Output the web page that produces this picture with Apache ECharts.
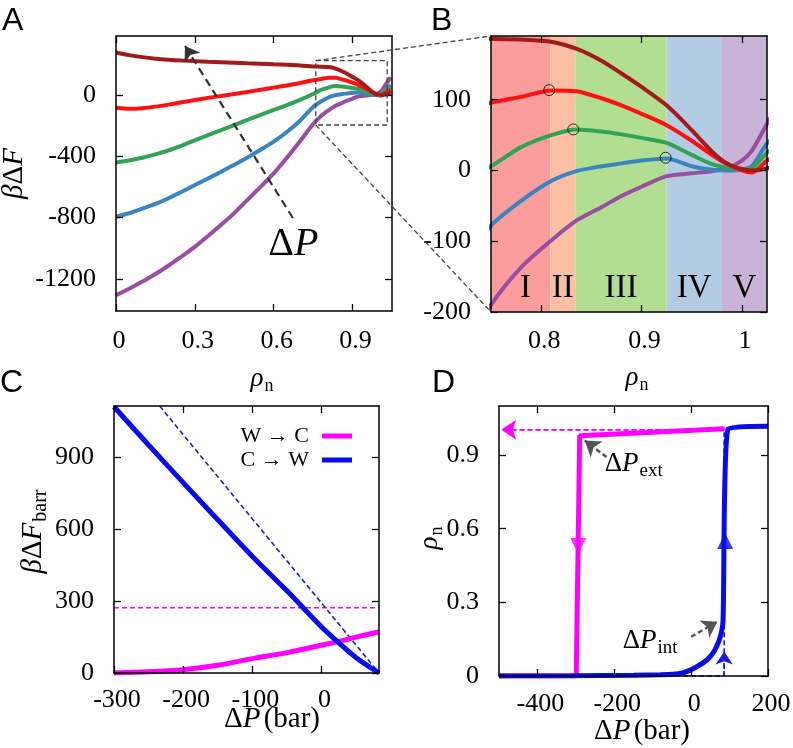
<!DOCTYPE html>
<html><head><meta charset="utf-8">
<script src="https://cdn.jsdelivr.net/npm/echarts@6/dist/echarts.min.js"></script>
<style>html,body{margin:0;padding:0;background:#fff}#c{width:793px;height:748px}</style>
</head><body><div id="c"></div>
<script>
// ---------------- DATA ----------------
// Panels A & B: free energy profiles vs rho_n for five pressures (increasing ΔP: purple -> dark red)
const rho = [0, 0.05, 0.1, 0.15, 0.2, 0.25, 0.3, 0.35, 0.4, 0.45, 0.5, 0.55, 0.6, 0.65, 0.7, 0.75, 0.78, 0.81, 0.835, 0.86, 0.88, 0.9, 0.925, 0.95, 0.97, 0.985, 1.0, 1.01, 1.025, 1.045];
const dfDarkRed = [277, 260, 247, 237, 230, 225, 221, 217, 214, 211, 207, 204, 200, 197, 193, 186, 185, 182, 172, 155, 137, 118, 92, 57, 27, 10, 2, 0, 3, 12];
const dfRed     = [-83, -90, -86, -76, -63, -48, -33, -19, -6, 7, 20, 34, 48, 62, 78, 96, 104, 113, 112, 102, 92, 80, 64, 42, 22, 9, 0, -3, 14, 30];
const dfGreen   = [-440, -428, -410, -388, -362, -330, -296, -262, -229, -196, -163, -130, -98, -66, -32, 6, 33, 50, 58, 55, 51, 46, 39, 22, 9, 4, 1, 3, 25, 48];
const dfBlue    = [-795, -772, -742, -711, -674, -632, -588, -545, -501, -456, -408, -358, -305, -242, -168, -78, -43, -15, -1, 6, 10, 14, 17, 6, 1, 0, 1, 6, 38, 65];
const dfPurple  = [-1307, -1265, -1218, -1169, -1113, -1053, -991, -920, -847, -771, -685, -600, -512, -410, -302, -190, -137, -99, -71, -52, -36, -23, -8, -4, -1, 3, 14, 28, 66, 115];
const barrierPts = [[0.808, 113.5], [0.832, 58], [0.924, 18]];
const regionEdges = [0.75, 0.809, 0.834, 0.925, 0.98, 1.025];
const regionNames = ['I', 'II', 'III', 'IV', 'V'];
const zoomBox = [[0.76, 224], [1.032, -196]];
const arrowA = [[0.673, -803], [0.2625, 320]];
const labelA = [0.579, -977];

// Panel C: barrier vs ΔP
const dpC = [-300, -250, -200, -150, -100, -50, 0, 25, 50, 83];
const barrWC = [0, 5, 14, 32, 60, 85, 116, 132, 150, 171];
const barrCW = [1112, 952, 795, 640, 487, 343, 192, 126, 64, 0];
const barrCWLinear = [[-234, 1115], [83, 0]];
const barrLevel = 273;

// Panel D: hysteresis loop
const dpWC  = [87, -290, -299, -500];
const rhoWC = [1.007, 0.979, 0, 0];
const dpCW  = [-500, -300, -150, -80, -47, -20, -4, 15, 40, 55, 66, 76, 83, 96, 200];
const rhoCW = [0, 0.001, 0.003, 0.005, 0.007, 0.014, 0.023, 0.038, 0.064, 0.09, 0.119, 0.16, 0.225, 1.007, 1.018];
const dpIdealCW = [-500, 86, 86];
const rhoIdealCW = [0, 0, 1.007];
const idealWC = [[87, 1.003], [-494, 1.003]];
const arrowIdealCW = [[86, 0], [86, 0.1]];
const triWC = [-294, 0.53];
const triCW = [88.5, 0.55];
const arrowExt = [[-220, 0.892], [-277, 0.959]];
const arrowInt = [[0, 0.16], [68, 0.221]];
const labelExt = [-225, 0.864];
const labelInt = [-178, 0.144];

// tick values
const ticksAx = [0, 0.3, 0.6, 0.9], ticksAy = [-1200, -800, -400, 0];
const ticksBx = [0.8, 0.9, 1], ticksBy = [-200, -100, 0, 100];
const ticksCx = [-300, -200, -100, 0], ticksCy = [0, 300, 600, 900];
const ticksDx = [-400, -200, 0, 200], ticksDy = [0, 0.3, 0.6, 0.9];

// ---------------- STYLE HELPERS ----------------
const SERIF = "Liberation Serif, DejaVu Serif, serif";
const SANS = "Liberation Sans, DejaVu Sans, sans-serif";
function mkRich(size, sub) {
  const s = sub || Math.round(size * 0.68);
  return {
    r: {fontFamily: SERIF, fontSize: size, color: '#000', fill: '#000'},
    i: {fontFamily: SERIF, fontSize: size, fontStyle: 'italic', color: '#000', fill: '#000'},
    s: {fontFamily: SERIF, fontSize: s, color: '#000', fill: '#000', padding: [Math.round(size * 0.55), 0, 0, 1]}
  };
}
const zip = (xs, ys) => xs.map((x, k) => [x, ys[k]]);

function axes(dim, grid, min, max, ticks) {
  const isX = dim === 'x';
  const base = {
    type: 'value', gridIndex: grid, min: min, max: max, z: 10,
    axisLine: {show: true, onZero: false, lineStyle: {color: '#000', width: 1.5}},
    axisTick: {show: true, inside: true, length: 7, customValues: ticks, lineStyle: {color: '#000', width: 1.3}},
    axisLabel: {show: false},
    splitLine: {show: false}
  };
  return [Object.assign({position: isX ? 'bottom' : 'left'}, base),
          Object.assign({position: isX ? 'top' : 'right'}, base)];
}

const gridRects = [
  {left: 116, top: 36, width: 276, height: 275},
  {left: 491, top: 36, width: 276, height: 276},
  {left: 114, top: 406, width: 265, height: 267},
  {left: 499, top: 406, width: 269, height: 270}
];
const grids = gridRects.map(g => Object.assign({containLabel: false, outerBoundsMode: 'none'}, g));

const xAxis = [].concat(
  axes('x', 0, 0, 1.05, ticksAx),
  axes('x', 1, 0.75, 1.025, ticksBx),
  axes('x', 2, -300, 83, ticksCx),
  axes('x', 3, -500, 200, ticksDx)
);
const yAxis = [].concat(
  axes('y', 0, -1410, 385, ticksAy),
  axes('y', 1, -200, 190, ticksBy),
  axes('y', 2, 0, 1115, ticksCy),
  axes('y', 3, 0, 1.1, ticksDy)
);

const curveDefs = [
  {d: dfPurple, c: '#984ea3'},
  {d: dfBlue, c: '#3a85c0'},
  {d: dfGreen, c: '#31a354'},
  {d: dfRed, c: '#ff1010'},
  {d: dfDarkRed, c: '#a41a1a'}
];
const series = [];
function arrowLine(pts, color, width, dash, size) {
  return {
    silent: true, animation: false, symbol: ['none', 'arrow'], symbolSize: size,
    label: {show: false}, emphasis: {disabled: true},
    lineStyle: {color: color, width: width, type: dash, opacity: 1},
    itemStyle: {color: color},
    data: [[{coord: pts[0]}, {coord: pts[1]}]]
  };
}
// Panel A & B curves
[0, 1].forEach(g => {
  curveDefs.forEach((cd, k) => {
    const s = {
      type: 'line', xAxisIndex: 2 * g, yAxisIndex: 2 * g, data: zip(rho, cd.d),
      showSymbol: false, symbol: 'none', smooth: 0.25, z: 3, color: cd.c,
      lineStyle: {color: cd.c, width: 4}, silent: true
    };
    if (g === 0 && k === 0) s.markLine = arrowLine(arrowA, '#333', 2.2, [8, 5], 14);
    series.push(s);
  });
});
// Panel B regions
series.push({
  type: 'line', xAxisIndex: 2, yAxisIndex: 2, data: [], z: 1, silent: true,
  markArea: {
    silent: true,
    label: {show: true, position: 'insideBottom', distance: 7, fontFamily: SERIF, fontSize: 33, color: '#000'},
    data: regionNames.map((nm, k) => [
      {name: nm, xAxis: regionEdges[k], itemStyle: {color: ['#fa9d9c', '#fcbfa3', '#b2de92', '#b3cce3', '#c9b3d7'][k], opacity: 1},
       label: k === 0 ? {offset: [5, 0]} : undefined},
      {xAxis: regionEdges[k + 1]}
    ])
  }
});
series.push({
  type: 'scatter', xAxisIndex: 2, yAxisIndex: 2, data: barrierPts, symbol: 'circle', symbolSize: 11, z: 5, silent: true,
  itemStyle: {color: 'rgba(0,0,0,0)', borderColor: '#000', borderWidth: 1}
});
// Panel C
series.push({type: 'line', xAxisIndex: 4, yAxisIndex: 4, data: [[-300, barrLevel], [83, barrLevel]], showSymbol: false, symbol: 'none', z: 3, silent: true,
  lineStyle: {color: '#ff00ff', width: 1.5, type: [5, 3]}});
series.push({type: 'line', xAxisIndex: 4, yAxisIndex: 4, data: barrCWLinear, showSymbol: false, symbol: 'none', z: 3, silent: true,
  lineStyle: {color: '#2222aa', width: 1.6, type: [5, 3]}});
series.push({name: 'W → C', type: 'line', xAxisIndex: 4, yAxisIndex: 4, data: zip(dpC, barrWC), showSymbol: false, symbol: 'none', smooth: 0.3, z: 4, silent: true,
  color: '#ff00ff', lineStyle: {color: '#ff00ff', width: 5}});
series.push({name: 'C → W', type: 'line', xAxisIndex: 4, yAxisIndex: 4, data: zip(dpC, barrCW), showSymbol: false, symbol: 'none', smooth: 0.3, z: 4, silent: true,
  color: '#0a0aee', lineStyle: {color: '#0a0aee', width: 5}});
// Panel D
series.push({type: 'line', xAxisIndex: 6, yAxisIndex: 6, data: idealWC, showSymbol: false, symbol: 'none', z: 3, silent: true,
  lineStyle: {color: '#ff00ff', width: 1.6, type: [5, 3]},
  markLine: arrowLine(idealWC, '#ff00ff', 1.6, [5, 3], 15)});
series.push({type: 'line', xAxisIndex: 6, yAxisIndex: 6, data: zip(dpIdealCW, rhoIdealCW), showSymbol: false, symbol: 'none', z: 3, silent: true,
  lineStyle: {color: '#1a1ae0', width: 1.6, type: [5, 3]},
  markLine: arrowLine(arrowIdealCW, '#1a1ae0', 1.6, [5, 3], 13)});
series.push({type: 'line', xAxisIndex: 6, yAxisIndex: 6, data: zip(dpWC, rhoWC), showSymbol: false, symbol: 'none', z: 4, silent: true,
  lineStyle: {color: '#ff00ff', width: 5}});
series.push({type: 'line', xAxisIndex: 6, yAxisIndex: 6, data: zip(dpCW, rhoCW), showSymbol: false, symbol: 'none', smooth: 0.2, z: 4, silent: true,
  lineStyle: {color: '#0a0aee', width: 5},
  markLine: {
    silent: true, animation: false, symbol: ['none', 'arrow'], symbolSize: 15, label: {show: false},
    lineStyle: {color: '#555', width: 2.5, type: [5, 3], opacity: 1}, itemStyle: {color: '#555'},
    data: [[{coord: arrowExt[0]}, {coord: arrowExt[1]}], [{coord: arrowInt[0]}, {coord: arrowInt[1]}]]
  }});
series.push({type: 'scatter', xAxisIndex: 6, yAxisIndex: 6, data: [triWC], symbol: 'triangle', symbolRotate: 180, symbolSize: [16, 16], z: 5, silent: true,
  itemStyle: {color: '#ff00ff'}});
series.push({type: 'scatter', xAxisIndex: 6, yAxisIndex: 6, data: [triCW], symbol: 'triangle', symbolSize: [16, 16], z: 5, silent: true,
  itemStyle: {color: '#0a0aee'}});

const option = {
  animation: false,
  backgroundColor: '#fff',
  textStyle: {fontFamily: SERIF, color: '#000'},
  grid: grids,
  xAxis: xAxis,
  yAxis: yAxis,
  legend: {
    data: ['W → C', 'C → W'], orient: 'vertical', right: 436, top: 420, align: 'right',
    icon: 'rect', itemWidth: 30, itemHeight: 5, itemGap: 2, selectedMode: false,
    textStyle: {fontFamily: SERIF, fontSize: 22, color: '#000', padding: [0, 8, 0, 0]}
  },
  series: series
};

const chart = echarts.init(document.getElementById('c'), null, {renderer: 'canvas'});
chart.setOption(option);

// ---------------- TICK LABELS, ANNOTATIONS & AXIS TITLES ----------------
const P = (g, v) => chart.convertToPixel({gridIndex: g}, v);
const gr = gridRects;
const TFONT = '26px ' + SERIF;
const graphics = [];
function xLabels(g, ticks, yRef, dy) {
  ticks.forEach(v => {
    const p = P(g, [v, yRef]);
    graphics.push({type: 'text', z: 100, x: p[0] + 3, y: gr[g].top + gr[g].height + dy,
      style: {text: String(v), font: TFONT, fill: '#000', align: 'center', verticalAlign: 'middle'}});
  });
}
function yLabels(g, ticks, xRef) {
  ticks.forEach(v => {
    const p = P(g, [xRef, v]);
    graphics.push({type: 'text', z: 100, x: gr[g].left - 20, y: p[1],
      style: {text: String(v), font: TFONT, fill: '#000', align: 'right', verticalAlign: 'middle'}});
  });
}
xLabels(0, ticksAx, 0, 30); yLabels(0, ticksAy, 0.5);
xLabels(1, ticksBx, 0, 29); yLabels(1, ticksBy, 0.9);
xLabels(2, ticksCx, 0, 27); yLabels(2, ticksCy, 0);
xLabels(3, ticksDx, 0, 28); yLabels(3, ticksDy, 0);

const z0 = P(0, zoomBox[0]), z1 = P(0, zoomBox[1]);
const bTL = P(1, [0.75, 190]), bBL = P(1, [0.75, -200]);
const dash = {stroke: '#444', lineWidth: 1.3, lineDash: [5, 3], fill: 'none'};
const la = P(0, labelA), le = P(3, labelExt), li = P(3, labelInt);
const letter = (t, x, y) => ({type: 'text', x: x, y: y, z: 100, style: {text: t, font: '32px ' + SANS, fill: '#000', align: 'left', verticalAlign: 'top'}});
const title = (t, x, y, size, rot, sub) => ({type: 'text', x: x, y: y, rotation: rot ? Math.PI / 2 : 0, z: 100,
  style: {text: t, rich: mkRich(size, sub), align: 'center', verticalAlign: 'middle'}});
graphics.push(
  {type: 'rect', z: 100, shape: {x: z0[0], y: z0[1], width: z1[0] - z0[0], height: z1[1] - z0[1]}, style: dash},
  {type: 'line', z: 100, shape: {x1: z0[0], y1: z0[1], x2: bTL[0], y2: bTL[1]}, style: dash},
  {type: 'line', z: 100, shape: {x1: z0[0], y1: z1[1], x2: bBL[0], y2: bBL[1]}, style: dash},
  {type: 'text', z: 100, x: la[0], y: la[1], style: {text: '{r|Δ}{i|P}', rich: mkRich(40), align: 'left', verticalAlign: 'middle'}},
  {type: 'text', z: 100, x: le[0], y: le[1], style: {text: '{r|Δ}{i|P}{s|ext}', rich: mkRich(27, 19), align: 'left', verticalAlign: 'middle'}},
  {type: 'text', z: 100, x: li[0], y: li[1], style: {text: '{r|Δ}{i|P}{s|int}', rich: mkRich(27, 19), align: 'left', verticalAlign: 'middle'}},
  // axis titles
  title('{i|ρ}{s|n}', gr[0].left + gr[0].width / 2 + 8, gr[0].top + gr[0].height + 68, 27),
  title('{i|ρ}{s|n}', gr[1].left + gr[1].width / 2 + 8, gr[1].top + gr[1].height + 66, 27),
  title('{r|Δ}{i|P} {r|(bar)}', 272, gr[2].top + gr[2].height + 46, 29),
  title('{r|Δ}{i|P} {r|(bar)}', 642, gr[3].top + gr[3].height + 55, 29),
  title('{i|β}{r|Δ}{i|F}', 14, gr[0].top + gr[0].height / 2, 29, true),
  title('{i|β}{r|Δ}{i|F}{s|barr}', 33, gr[2].top + gr[2].height / 2 - 8, 29, true),
  title('{i|ρ}{s|n}', 430, gr[3].top + gr[3].height / 2 - 3, 27, true),
  letter('A', 2, 5), letter('B', 431, 5), letter('C', 0, 367), letter('D', 432, 367)
);
chart.setOption({graphic: graphics});
</script></body></html>
